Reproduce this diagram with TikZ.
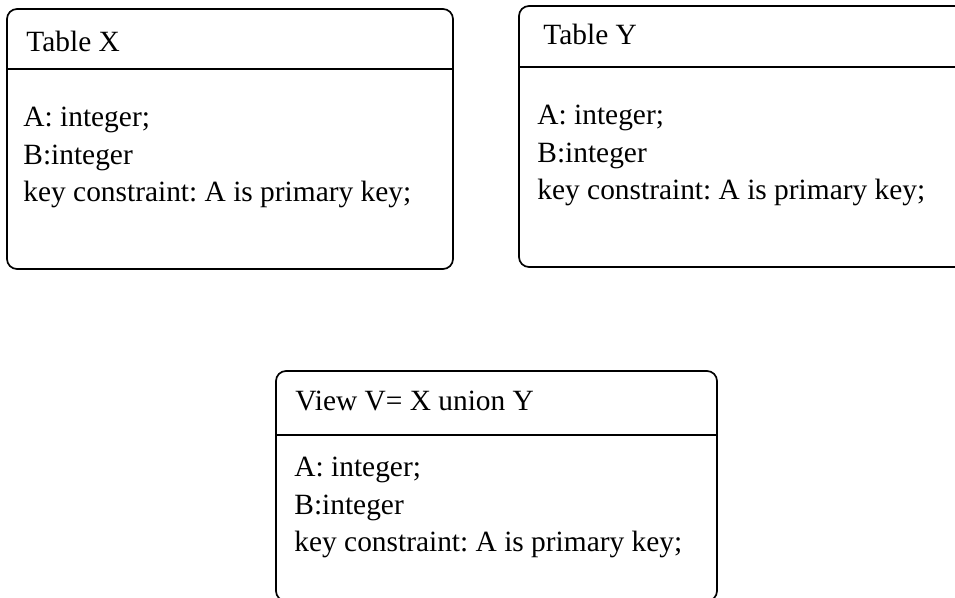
\documentclass[tikz,border=0pt]{standalone}
\usepackage{fontspec}
\setmainfont{Liberation Serif}
\usepackage{tikz}
\frenchspacing

\begin{document}
\begin{tikzpicture}[x=0.5pt, y=-0.5pt, line join = round,
    tbl/.style={draw, line width=0.85pt, rounded corners=5pt},
    txt/.style={anchor=base west, inner sep=0pt, font=\fontsize{14.7}{17}\selectfont}]
    \clip (0,0) rectangle (955,598);
    % table X
    \draw[tbl] (7,9) rectangle (453,269);
    \draw[line width=0.85pt] (7,69) -- (453,69);
    \node[txt] (xname) at (26,52) {Table X};
    \node[txt] (xa) at (23,127) {A: integer;};
    \node[txt] (xb) at (23,164.5) {B:integer};
    \node[txt] (xkey) at (23,202) {key constraint: A is primary key;};
    % table Y, runs past the right edge
    \draw[tbl] (519,6) rectangle (1010,267);
    \draw[line width=0.85pt] (519,67) -- (1010,67);
    \node[txt] (yname) at (543,45) {Table Y};
    \node[txt] (ya) at (537,125) {A: integer;};
    \node[txt] (yb) at (537,162.5) {B:integer};
    \node[txt] (ykey) at (537,200) {key constraint: A is primary key;};
    % view V
    \draw[tbl] (276,371) rectangle (717,601);
    \draw[line width=0.85pt] (276,435) -- (717,435);
    \node[txt] (vname) at (295,411) {View V= X union Y};
    \node[txt] (va) at (294,477) {A: integer;};
    \node[txt] (vb) at (294,514.5) {B:integer};
    \node[txt] (vkey) at (294,552) {key constraint: A is primary key;};
\end{tikzpicture}
\end{document}
